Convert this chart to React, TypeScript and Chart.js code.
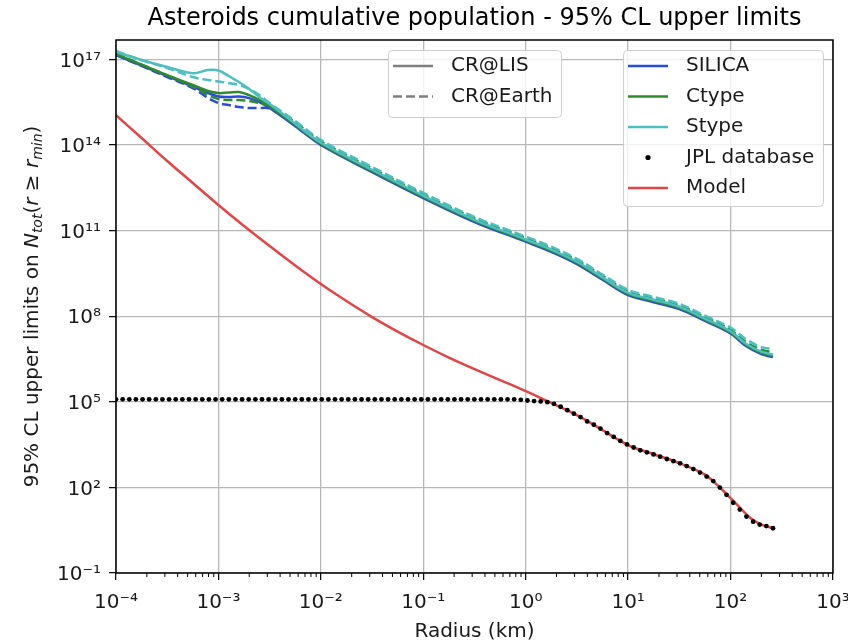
import React, { useEffect, useRef } from 'react';
import { Chart, registerables } from 'chart.js';

Chart.register(...registerables);

const FONT = '"DejaVu Sans", "Liberation Sans", sans-serif';
const TEXT = '#1a1a1a';

const titleText = 'Asteroids cumulative population - 95% CL upper limits';
const xAxisTitle = 'Radius (km)';

const xTickValues = [1e-4, 1e-3, 1e-2, 1e-1, 1, 10, 100, 1000];
const xTickLabels = ['10⁻⁴', '10⁻³', '10⁻²', '10⁻¹', '10⁰', '10¹', '10²', '10³'];
const yTickValues = [1e-1, 1e2, 1e5, 1e8, 1e11, 1e14, 1e17];
const yTickLabels = ['10⁻¹', '10²', '10⁵', '10⁸', '10¹¹', '10¹⁴', '10¹⁷'];
const xMinorDecades = [1e-4, 1e-3, 1e-2, 1e-1, 1, 10, 100];
const xMinorMultipliers = [2, 3, 4, 5, 6, 7, 8, 9];

// radius grid (km) of the CR upper-limit curves
const crRadius = [
  1e-4, 1.778e-4, 3.162e-4, 5.623e-4, 7.943e-4, 1e-3, 1.259e-3, 1.585e-3, 1.995e-3, 2.512e-3,
  3.162e-3, 5.623e-3, 1e-2, 3.162e-2, 0.1, 0.3162, 1, 1.778, 3.162, 5.623,
  10, 17.78, 31.62, 56.23, 100, 141.3, 199.5, 259.4,
];
const silicaLIS = [
  1.43e17, 6.1e16, 2.62e16, 1.12e16, 6.6e15, 5.0e15, 4.8e15, 5.0e15, 4.4e15, 3.2e15,
  1.98e15, 4.6e14, 1.0e14, 1.13e13, 1.39e12, 2.0e11, 4.1e10, 1.8e10, 6.7e9, 1.9e9,
  5.5e8, 3.1e8, 1.78e8, 6.9e7, 2.5e7, 9.0e6, 4.7e6, 3.7e6,
];
const silicaEarth = [
  1.43e17, 5.9e16, 2.42e16, 9.9e15, 4.4e15, 2.96e15, 2.52e15, 2.15e15, 1.98e15, 1.98e15,
  1.9e15, 5.0e14, 1.2e14, 1.36e13, 1.67e12, 2.4e11, 4.9e10, 2.17e10, 8.1e9, 2.3e9,
  6.6e8, 3.8e8, 2.14e8, 8.3e7, 2.97e7, 1.08e7, 5.7e6, 4.5e6,
];
const ctypeLIS = [
  1.55e17, 6.6e16, 2.84e16, 1.27e16, 7.8e15, 6.6e15, 6.9e15, 7.2e15, 5.6e15, 3.8e15,
  2.23e15, 5.1e14, 1.1e14, 1.24e13, 1.52e12, 2.19e11, 4.5e10, 1.98e10, 7.4e9, 2.1e9,
  6.05e8, 3.44e8, 1.95e8, 7.55e7, 2.71e7, 9.9e6, 5.2e6, 4.06e6,
];
const ctypeEarth = [
  1.55e17, 6.6e16, 2.73e16, 1.12e16, 5.6e15, 4.1e15, 3.8e15, 3.8e15, 3.5e15, 2.96e15,
  2.33e15, 6.25e14, 1.35e14, 1.52e13, 1.87e12, 2.7e11, 5.5e10, 2.43e10, 9.1e9, 2.6e9,
  7.4e8, 4.2e8, 2.4e8, 9.3e7, 3.33e7, 1.24e7, 6.7e6, 5.5e6,
];
const stypeLIS = [
  1.82e17, 9.5e16, 5.4e16, 3.3e16, 4.25e16, 4.1e16, 2.62e16, 1.61e16, 9.2e15, 4.8e15,
  2.74e15, 5.6e14, 1.2e14, 1.36e13, 1.67e12, 2.4e11, 4.9e10, 2.17e10, 8.1e9, 2.3e9,
  6.6e8, 3.8e8, 2.14e8, 8.3e7, 2.97e7, 1.08e7, 5.7e6, 4.5e6,
];
const stypeEarth = [
  1.97e17, 9.5e16, 5.0e16, 2.42e16, 1.89e16, 1.68e16, 1.49e16, 1.27e16, 9.2e15, 5.6e15,
  2.96e15, 6.9e14, 1.51e14, 1.71e13, 2.1e12, 3.0e11, 6.2e10, 2.73e10, 1.02e10, 2.9e9,
  8.4e8, 4.75e8, 2.7e8, 1.04e8, 4.0e7, 1.58e7, 8.3e6, 7.1e6,
];

// population model
const modelRadius = [
  1e-4, 1.778e-4, 3.162e-4, 5.623e-4, 1e-3, 1.778e-3, 3.162e-3, 5.623e-3, 1e-2, 1.778e-2,
  3.162e-2, 5.623e-2, 0.1, 0.1778, 0.3162, 0.5623, 1, 1.778, 3.162, 5.623,
  10, 17.78, 31.62, 56.23, 79.43, 100, 125.9, 158.5, 199.5, 259.4,
];
const modelValues = [
  1.12e15, 1.76e14, 2.75e13, 4.66e12, 7.9e11, 1.45e11, 2.88e10, 5.97e9, 1.34e9, 3.4e8,
  9.35e7, 2.9e7, 9.8e6, 3.56e6, 1.41e6, 5.8e5, 2.38e5, 9.1e4, 3.44e4, 1.02e4,
  3.05e3, 1.45e3, 7.1e2, 2.8e2, 95, 42, 18.2, 8.1, 5.0, 3.7,
];

// JPL database cumulative counts
const jplRadius = [
  1.000e-4, 1.161e-4, 1.348e-4, 1.564e-4, 1.816e-4, 2.108e-4, 2.448e-4, 2.841e-4, 3.298e-4, 3.829e-4,
  4.445e-4, 5.160e-4, 5.990e-4, 6.954e-4, 8.073e-4, 9.372e-4, 1.088e-3, 1.263e-3, 1.466e-3, 1.702e-3,
  1.976e-3, 2.294e-3, 2.663e-3, 3.091e-3, 3.588e-3, 4.166e-3, 4.836e-3, 5.614e-3, 6.517e-3, 7.566e-3,
  8.783e-3, 1.020e-2, 1.184e-2, 1.374e-2, 1.595e-2, 1.852e-2, 2.150e-2, 2.496e-2, 2.897e-2, 3.363e-2,
  3.904e-2, 4.532e-2, 5.261e-2, 6.108e-2, 7.091e-2, 8.231e-2, 9.556e-2, 1.109e-1, 1.288e-1, 1.495e-1,
  1.736e-1, 2.015e-1, 2.339e-1, 2.715e-1, 3.152e-1, 3.659e-1, 4.248e-1, 4.931e-1, 5.724e-1, 6.645e-1,
  7.715e-1, 8.956e-1, 1.040, 1.207, 1.401, 1.627, 1.888, 2.192, 2.545, 2.954,
  3.429, 3.981, 4.622, 5.365, 6.228, 7.230, 8.394, 9.744, 11.31, 13.13,
  15.24, 17.70, 20.54, 23.85, 27.69, 32.14, 37.31, 43.31, 50.28, 58.37,
  67.76, 78.67, 91.32, 106.0, 123.1, 142.9, 165.9, 192.5, 223.5, 259.5,
];
const jplValues = [
  1.22e5, 1.22e5, 1.22e5, 1.22e5, 1.22e5, 1.22e5, 1.22e5, 1.22e5, 1.22e5, 1.22e5,
  1.22e5, 1.22e5, 1.22e5, 1.22e5, 1.22e5, 1.22e5, 1.22e5, 1.22e5, 1.22e5, 1.22e5,
  1.22e5, 1.22e5, 1.22e5, 1.22e5, 1.22e5, 1.22e5, 1.22e5, 1.22e5, 1.22e5, 1.22e5,
  1.22e5, 1.22e5, 1.22e5, 1.22e5, 1.22e5, 1.22e5, 1.22e5, 1.22e5, 1.22e5, 1.22e5,
  1.22e5, 1.22e5, 1.22e5, 1.22e5, 1.22e5, 1.22e5, 1.22e5, 1.22e5, 1.22e5, 1.22e5,
  1.22e5, 1.22e5, 1.22e5, 1.22e5, 1.22e5, 1.22e5, 1.22e5, 1.22e5, 1.22e5, 1.22e5,
  1.22e5, 1.17e5, 1.11e5, 1.06e5, 1.03e5, 9.7e4, 8.4e4, 6.7e4, 5.1e4, 3.85e4,
  2.92e4, 2.05e4, 1.57e4, 1.15e4, 8.0e3, 5.9e3, 4.25e3, 3.2e3, 2.5e3, 2.0e3,
  1.7e3, 1.43e3, 1.19e3, 9.9e2, 8.3e2, 7.0e2, 5.6e2, 4.4e2, 3.3e2, 2.4e2,
  1.67e2, 99, 55, 29, 16.7, 9.5, 6.3, 5.0, 4.4, 3.7,
];

const COLORS = {
  silica: '#2a4be0',
  ctype: '#2e8b2e',
  stype: '#4cbfbf',
  model: '#e54444',
  jpl: '#000000',
  cr: '#7f7f7f',
};
const DASH = [9, 4];
const LINE_W = 2.5;

const legendA = [
  { label: 'CR@LIS', color: COLORS.cr, dash: [] as number[], marker: false },
  { label: 'CR@Earth', color: COLORS.cr, dash: DASH, marker: false },
];
const legendB = [
  { label: 'SILICA', color: COLORS.silica, dash: [] as number[], marker: false },
  { label: 'Ctype', color: COLORS.ctype, dash: [] as number[], marker: false },
  { label: 'Stype', color: COLORS.stype, dash: [] as number[], marker: false },
  { label: 'JPL database', color: COLORS.jpl, dash: [] as number[], marker: true },
  { label: 'Model', color: COLORS.model, dash: [] as number[], marker: false },
];

const yLabelParts = [
  { text: '95% CL upper limits on ', italic: false, sub: false },
  { text: 'N', italic: true, sub: false },
  { text: 'tot', italic: true, sub: true },
  { text: '(', italic: false, sub: false },
  { text: 'r', italic: true, sub: false },
  { text: ' ≥ ', italic: false, sub: false },
  { text: 'r', italic: true, sub: false },
  { text: 'min', italic: true, sub: true },
  { text: ')', italic: false, sub: false },
];

function pts(xs: number[], ys: number[]) {
  return xs.map((x, i) => ({ x, y: ys[i] }));
}

function lineDs(label: string, xs: number[], ys: number[], color: string, dashed: boolean, order: number) {
  return {
    label,
    data: pts(xs, ys),
    borderColor: color,
    backgroundColor: color,
    borderWidth: LINE_W,
    borderDash: dashed ? DASH : [],
    pointRadius: 0,
    tension: 0.35,
    fill: false,
    order,
  };
}

function roundedBox(ctx: CanvasRenderingContext2D, x: number, y: number, w: number, h: number, r: number) {
  ctx.beginPath();
  ctx.moveTo(x + r, y);
  ctx.lineTo(x + w - r, y);
  ctx.arcTo(x + w, y, x + w, y + r, r);
  ctx.lineTo(x + w, y + h - r);
  ctx.arcTo(x + w, y + h, x + w - r, y + h, r);
  ctx.lineTo(x + r, y + h);
  ctx.arcTo(x, y + h, x, y + h - r, r);
  ctx.lineTo(x, y + r);
  ctx.arcTo(x, y, x + r, y, r);
  ctx.closePath();
}

function drawLegend(ctx: CanvasRenderingContext2D, items: typeof legendA, left: number, top: number, w: number, h: number) {
  ctx.save();
  roundedBox(ctx, left + 0.5, top + 0.5, w, h, 4);
  ctx.fillStyle = 'rgba(255,255,255,0.8)';
  ctx.fill();
  ctx.strokeStyle = '#cfcfcf';
  ctx.lineWidth = 1;
  ctx.stroke();
  ctx.font = `20px ${FONT}`;
  ctx.textBaseline = 'middle';
  ctx.textAlign = 'left';
  items.forEach((it, k) => {
    const cy = top + 16 + k * 30.5;
    if (it.marker) {
      ctx.fillStyle = it.color;
      ctx.beginPath();
      ctx.arc(left + 25, cy, 2.6, 0, Math.PI * 2);
      ctx.fill();
    } else {
      ctx.strokeStyle = it.color;
      ctx.lineWidth = LINE_W;
      ctx.setLineDash(it.dash);
      ctx.beginPath();
      ctx.moveTo(left + 5, cy);
      ctx.lineTo(left + 45, cy);
      ctx.stroke();
      ctx.setLineDash([]);
    }
    ctx.fillStyle = TEXT;
    ctx.fillText(it.label, left + 63, cy);
  });
  ctx.restore();
}

const decorPlugin = {
  id: 'decor',
  afterDraw(chart: any) {
    const ctx: CanvasRenderingContext2D = chart.ctx;
    const ca = chart.chartArea;
    const xs = chart.scales.x;
    ctx.save();
    // minor x ticks
    ctx.strokeStyle = '#000';
    ctx.lineWidth = 1;
    xMinorDecades.forEach((d) => {
      xMinorMultipliers.forEach((m) => {
        const px = xs.getPixelForValue(m * d);
        ctx.beginPath();
        ctx.moveTo(px, ca.bottom);
        ctx.lineTo(px, ca.bottom + 4);
        ctx.stroke();
      });
    });
    // frame
    ctx.lineWidth = 1.5;
    ctx.strokeRect(ca.left, ca.top, ca.right - ca.left, ca.bottom - ca.top);

    // y axis label
    ctx.fillStyle = TEXT;
    ctx.textBaseline = 'alphabetic';
    ctx.textAlign = 'left';
    const fontFor = (p: any) => `${p.italic ? 'italic ' : ''}${p.sub ? 14 : 20}px ${FONT}`;
    let total = 0;
    yLabelParts.forEach((p) => {
      ctx.font = fontFor(p);
      total += ctx.measureText(p.text).width;
    });
    ctx.translate(37.5, (ca.top + ca.bottom) / 2);
    ctx.rotate(-Math.PI / 2);
    let cx = -total / 2;
    yLabelParts.forEach((p) => {
      ctx.font = fontFor(p);
      ctx.fillText(p.text, cx, p.sub ? 4 : 0);
      cx += ctx.measureText(p.text).width;
    });
    ctx.restore();

    // legends
    drawLegend(ctx, legendA, 388, ca.top + 10, 173, 67);
    drawLegend(ctx, legendB, ca.right - 10 - 200, ca.top + 10, 200, 156);
  },
};

export default function App() {
  const ref = useRef<HTMLCanvasElement>(null);
  useEffect(() => {
    const canvas = ref.current;
    if (!canvas) return;
    const chart = new Chart(canvas, {
      type: 'line',
      data: {
        datasets: [
          lineDs('SILICA CR@LIS', crRadius, silicaLIS, COLORS.silica, false, 10),
          lineDs('SILICA CR@Earth', crRadius, silicaEarth, COLORS.silica, true, 9),
          lineDs('Ctype CR@LIS', crRadius, ctypeLIS, COLORS.ctype, false, 8),
          lineDs('Ctype CR@Earth', crRadius, ctypeEarth, COLORS.ctype, true, 7),
          lineDs('Stype CR@LIS', crRadius, stypeLIS, COLORS.stype, false, 6),
          lineDs('Stype CR@Earth', crRadius, stypeEarth, COLORS.stype, true, 5),
          lineDs('Model', modelRadius, modelValues, COLORS.model, false, 2),
          {
            label: 'JPL database',
            data: pts(jplRadius, jplValues),
            showLine: false,
            pointRadius: 2.4,
            pointBackgroundColor: COLORS.jpl,
            pointBorderWidth: 0,
            borderColor: COLORS.jpl,
            order: 1,
          },
        ] as any,
      },
      options: {
        responsive: false,
        devicePixelRatio: 1,
        animation: false,
        events: [],
        layout: { padding: { left: 0, right: 15, top: 0, bottom: 0 } },
        plugins: {
          legend: { display: false },
          tooltip: { enabled: false },
          title: {
            display: true,
            text: titleText,
            color: '#000',
            font: { family: FONT, size: 24, weight: 'normal', lineHeight: 1.2 },
            padding: { top: 4.5, bottom: 6.7 },
            fullSize: false,
          } as any,
        },
        scales: {
          x: {
            type: 'logarithmic',
            min: 1e-4,
            max: 1e3,
            afterBuildTicks: (s: any) => {
              s.ticks = xTickValues.map((v) => ({ value: v }));
            },
            afterFit: (s: any) => {
              s.height = 69;
              s.paddingLeft = 0;
              s.paddingRight = 0;
            },
            ticks: {
              callback: (_v: any, i: number) => xTickLabels[i],
              font: { family: FONT, size: 20 },
              color: TEXT,
              padding: 10.5,
              maxRotation: 0,
              autoSkip: false,
            },
            grid: { color: '#b8b8b8', lineWidth: 1.3, tickLength: 7, tickColor: '#000', tickWidth: 1.2 },
            border: { display: false },
            title: {
              display: true,
              text: xAxisTitle,
              color: TEXT,
              font: { family: FONT, size: 20, lineHeight: 1.0 },
              padding: { top: 0, bottom: 0 },
            },
          },
          y: {
            type: 'logarithmic',
            min: 1e-1,
            max: 4.8e17,
            afterBuildTicks: (s: any) => {
              s.ticks = yTickValues.map((v) => ({ value: v }));
            },
            afterFit: (s: any) => {
              s.width = 116;
              s.paddingTop = 0;
              s.paddingBottom = 0;
            },
            ticks: {
              callback: (_v: any, i: number) => yTickLabels[i],
              font: { family: FONT, size: 20 },
              color: TEXT,
              padding: 8,
              labelOffset: 2,
              autoSkip: false,
            },
            grid: { color: '#b8b8b8', lineWidth: 1.3, tickLength: 7, tickColor: '#000', tickWidth: 1.2 },
            border: { display: false },
          },
        },
      } as any,
      plugins: [decorPlugin],
    });
    return () => chart.destroy();
  }, []);
  return (
    <div style={{ position: 'absolute', left: 0, top: 0, width: 848, height: 642, background: '#fff' }}>
      <canvas ref={ref} width={848} height={642} style={{ display: 'block', width: 848, height: 642 }} />
    </div>
  );
}
